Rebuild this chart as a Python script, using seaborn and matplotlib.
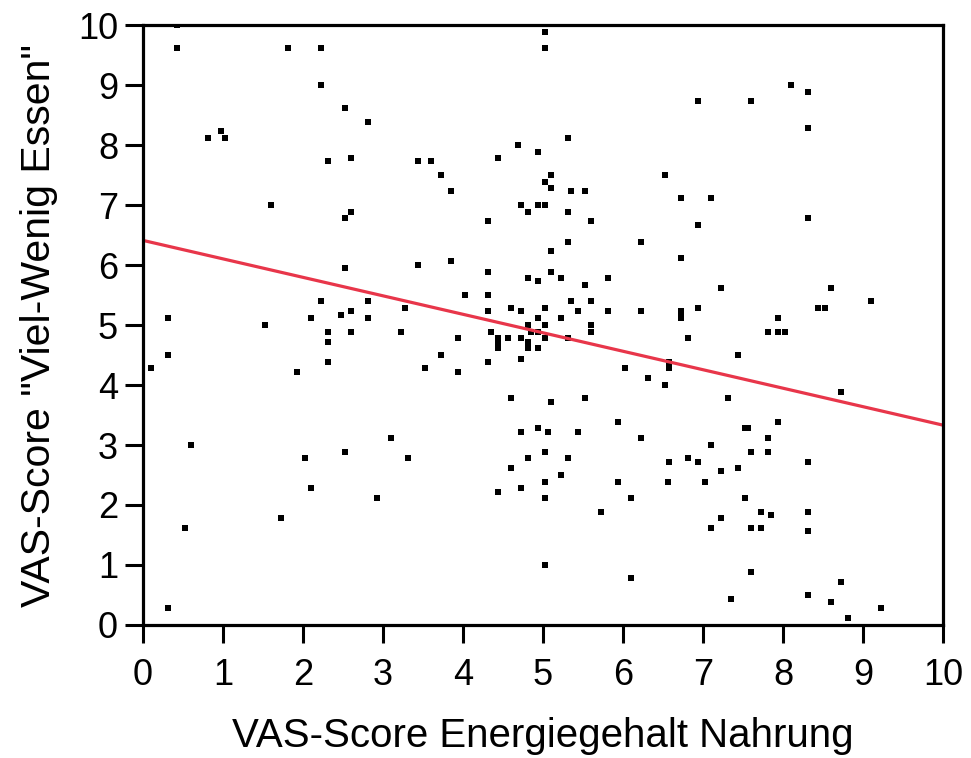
import matplotlib
matplotlib.use("Agg")
import matplotlib.pyplot as plt
import numpy as np
import pandas as pd
import seaborn as sns

# VAS scores per participant: energy content of food (x) vs. "eat much / little" (y)
energie = [
    0.43, 0.43, 1.81, 2.23, 2.23, 2.52, 2.81, 0.81, 0.975, 1.02,
    2.31, 2.60, 1.60, 2.60, 2.52, 2.52, 2.23, 2.81, 3.27, 0.31,
    1.52, 2.10, 2.48, 2.60, 2.81, 2.31, 2.60, 3.23, 2.31, 2.31,
    0.31, 0.10, 1.93, 0.60, 3.10, 2.52, 2.02, 3.31, 2.10, 2.93,
    1.73, 0.52, 0.31,
    5.02, 5.02, 5.31, 4.69, 4.94, 4.44, 3.44, 3.60, 3.73, 5.10,
    6.52, 5.02, 5.10, 3.85, 5.35, 5.52, 4.73, 4.94, 5.02, 4.81,
    5.31, 4.31, 5.60, 5.31, 6.23, 5.10, 3.44, 3.85, 4.31, 5.10,
    4.81, 4.94, 5.23, 5.81, 5.52, 4.02, 4.31, 5.35, 5.60, 4.31,
    4.60, 4.73, 5.02, 5.44, 5.81, 6.23, 4.94, 5.23, 4.81, 5.02,
    5.60, 5.60, 3.94, 4.35, 4.44, 4.44, 4.44, 4.56, 4.73, 4.85,
    4.94, 5.02, 5.31, 4.81, 4.81, 4.81, 4.94, 4.73, 3.73, 4.31,
    3.52, 3.94, 6.02, 6.31, 6.52, 6.58, 6.58, 4.60, 5.10, 5.52,
    5.94, 6.23, 4.73, 4.94, 5.06, 5.44, 5.02, 4.81, 5.31, 4.60,
    5.23, 5.02, 5.94, 6.58, 6.56, 4.44, 4.73, 5.02, 6.10, 5.73,
    5.02, 6.10,
    8.10, 8.31, 6.94, 7.60, 8.31, 6.73, 7.10, 6.94, 8.31, 6.73,
    7.23, 8.60, 9.10, 6.94, 8.44, 8.52, 6.73, 6.73, 6.73, 7.94,
    7.81, 7.94, 8.02, 6.81, 7.44, 7.31, 8.73, 7.94, 7.52, 7.56,
    7.81, 7.10, 7.60, 7.81, 6.81, 6.94, 8.31, 7.23, 7.44, 7.02,
    7.52, 7.73, 7.85, 8.31, 7.23, 7.10, 7.60, 7.73, 8.31, 7.60,
    8.73, 7.35, 8.31, 8.60, 8.81, 9.23,
]
viel_wenig = [
    10.0, 9.62, 9.62, 9.62, 9.00, 8.62, 8.39, 8.12, 8.23, 8.12,
    7.73, 7.78, 7.00, 6.89, 6.78, 5.95, 5.40, 5.40, 5.28, 5.12,
    5.00, 5.12, 5.17, 5.23, 5.12, 4.89, 4.89, 4.89, 4.72, 4.39,
    4.50, 4.28, 4.22, 3.00, 3.11, 2.89, 2.78, 2.78, 2.28, 2.11,
    1.78, 1.61, 0.28,
    9.89, 9.62, 8.12, 8.00, 7.89, 7.78, 7.73, 7.73, 7.50, 7.50,
    7.50, 7.39, 7.28, 7.23, 7.23, 7.23, 7.00, 7.00, 7.00, 6.89,
    6.89, 6.73, 6.73, 6.39, 6.39, 6.23, 6.00, 6.06, 5.89, 5.89,
    5.78, 5.73, 5.78, 5.78, 5.67, 5.50, 5.50, 5.40, 5.40, 5.23,
    5.28, 5.23, 5.28, 5.23, 5.23, 5.23, 5.12, 5.12, 5.00, 5.00,
    5.00, 4.89, 4.78, 4.89, 4.78, 4.72, 4.61, 4.78, 4.78, 4.89,
    4.89, 4.78, 4.78, 4.72, 4.67, 4.61, 4.61, 4.44, 4.50, 4.39,
    4.28, 4.22, 4.28, 4.11, 4.00, 4.39, 4.28, 3.78, 3.72, 3.78,
    3.39, 3.11, 3.22, 3.28, 3.22, 3.22, 2.89, 2.78, 2.78, 2.61,
    2.50, 2.39, 2.39, 2.72, 2.39, 2.22, 2.28, 2.11, 2.11, 1.89,
    1.00, 0.78,
    9.00, 8.89, 8.73, 8.73, 8.28, 7.12, 7.12, 6.67, 6.78, 6.12,
    5.62, 5.62, 5.40, 5.28, 5.28, 5.28, 5.23, 5.17, 5.12, 5.12,
    4.89, 4.89, 4.89, 4.78, 4.50, 3.78, 3.89, 3.39, 3.28, 3.28,
    3.11, 3.00, 2.89, 2.89, 2.78, 2.72, 2.72, 2.56, 2.61, 2.39,
    2.11, 1.89, 1.83, 1.89, 1.78, 1.61, 1.61, 1.61, 1.56, 0.89,
    0.72, 0.44, 0.50, 0.39, 0.11, 0.28,
]

x_label = "VAS-Score Energiegehalt Nahrung"
y_label = 'VAS-Score "Viel-Wenig Essen"'
ticks = list(range(0, 11))

df = pd.DataFrame({"energie": energie, "viel_wenig": viel_wenig})

sns.set_theme(style="ticks")
plt.rcParams["font.family"] = ["Liberation Sans", "DejaVu Sans"]

fig = plt.figure(figsize=(9.71, 7.58), dpi=100)
ax = fig.add_axes([143 / 971, 1 - 625 / 758, 800 / 971, 600 / 758])
ax.set_xlim(0, 10)
ax.set_ylim(0, 10)

sns.regplot(
    data=df, x="energie", y="viel_wenig", ax=ax, ci=None, truncate=False,
    marker="s",
    scatter_kws={"s": 18, "color": "black", "linewidths": 0, "alpha": 1},
    line_kws={"color": "#e8364a", "linewidth": 2.3},
)

ax.set_xlim(0, 10)
ax.set_ylim(0, 10)
ax.set_xticks(ticks)
ax.set_yticks(ticks)
ax.set_xticklabels([str(t) for t in ticks])
ax.set_yticklabels([str(t) for t in ticks])

for side in ["left", "right", "top", "bottom"]:
    ax.spines[side].set_visible(True)
    ax.spines[side].set_linewidth(2.3)
    ax.spines[side].set_color("black")

ax.tick_params(axis="both", which="major", direction="out", length=13,
               width=2.2, color="black", labelsize=26, labelcolor="black")
ax.tick_params(axis="x", pad=11)
ax.tick_params(axis="y", pad=5)

ax.set_xlabel(x_label, fontsize=29, color="black", labelpad=17)
ax.set_ylabel(y_label, fontsize=29.5, color="black", labelpad=14)

fig.savefig("out.png", dpi=100, facecolor="white")
